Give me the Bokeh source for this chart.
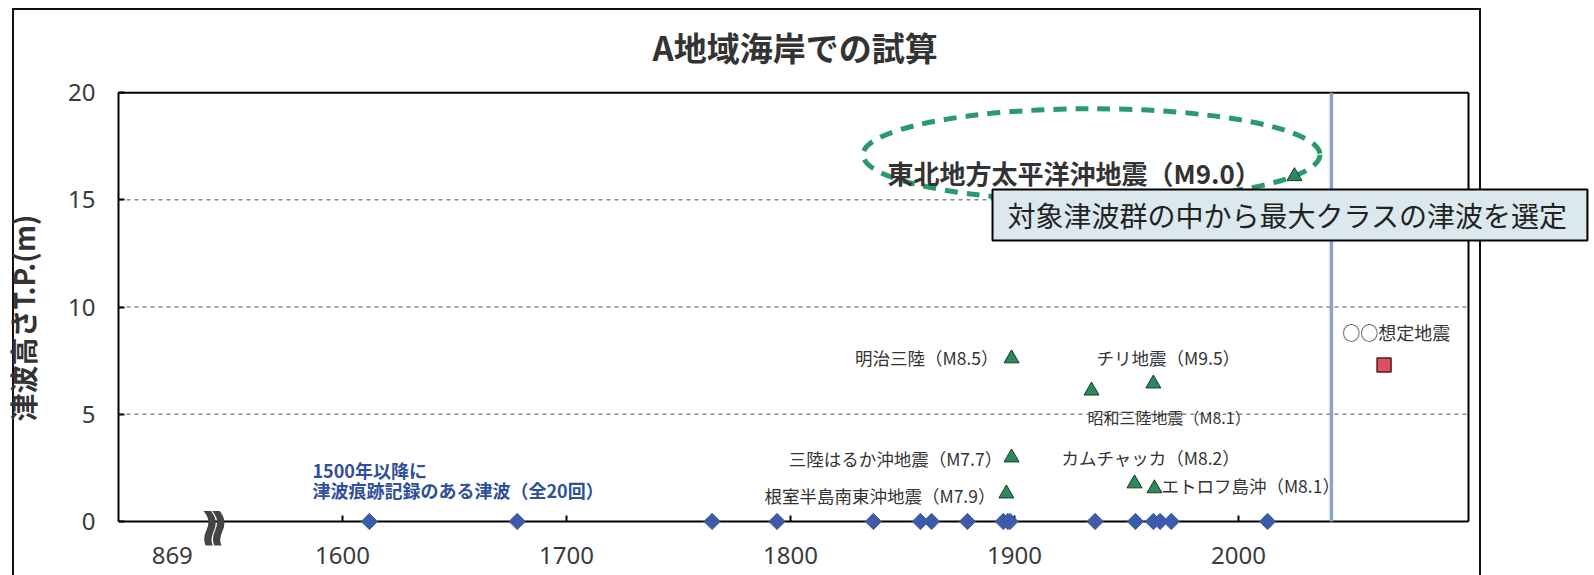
from bokeh.plotting import figure
from bokeh.models import Label, FixedTicker, Range1d
from bokeh.embed import file_html
from bokeh.resources import INLINE
import math

# ---------------- data ----------------
record_years = [1612, 1678, 1765, 1794, 1837, 1858, 1863, 1879, 1895, 1897, 1898,
                1936, 1954, 1962, 1965, 1970, 2013]
record_heights = [0, 0, 0, 0, 0, 0, 0, 0, 0, 0, 0, 0, 0, 0, 0, 0, 0]

quake_names = ["東北地方太平洋沖地震（M9.0）", "明治三陸（M8.5）", "チリ地震（M9.5）",
               "昭和三陸地震（M8.1）", "三陸はるか沖地震（M7.7）", "カムチャッカ（M8.2）",
               "エトロフ島沖（M8.1）", "根室半島南東沖地震（M7.9）"]
quake_years = [2025, 1898.7, 1962, 1934.4, 1898.7, 1953.6, 1962.5, 1896.4]
quake_heights = [16.1, 7.6, 6.43, 6.1, 2.98, 1.77, 1.54, 1.3]

scenario_name = "○○想定地震"
scenario_x = [2065]
scenario_height = [7.3]

y_ticks = [0, 5, 10, 15, 20]
grid_levels = [5, 10, 15]
x_ticks = [1524, 1600, 1700, 1800, 1900, 2000]
x_tick_labels = {1524: "869"}
separator_year = [2041.5]

title_text = "A地域海岸での試算"
y_label = "津波高さT.P.(m)"
note_text = "対象津波群の中から最大クラスの津波を選定"
record_note = ["1500年以降に", "津波痕跡記録のある津波（全20回）"]

# plotted window of the chart (years, metres)
X_MIN, X_MAX = 1500, 2102.7
Y_MIN, Y_MAX = 0, 20

# ---------------- figure ----------------
JP = "Noto Sans CJK JP"
DARK = "#333333"

p = figure(frame_width=1477, frame_height=455, min_border_left=117, min_border_right=0,
           min_border_top=90, min_border_bottom=30,
           x_range=Range1d(1500, 2159.4), y_range=Range1d(-1.12, 20.1),
           output_backend="svg", toolbar_location=None, title=title_text,
           background_fill_color=None, border_fill_color=None)
p.outline_line_color = None
# outer frame of the slide (drawn behind the transparent canvas)
p.styles = {
    "background-color": "white",
    "background-image": "linear-gradient(#111,#111), linear-gradient(#111,#111), linear-gradient(#111,#111)",
    "background-size": "1469px 2px, 2px 700px, 2px 700px",
    "background-position": "12px 8px, 12px 8px, 1479px 8px",
    "background-repeat": "no-repeat",
}

p.title.text_font = JP
p.title.text_font_size = "33px"
p.title.text_font_style = "bold"
p.title.text_color = DARK
p.title.align = "left"
p.title.offset = 534
p.title.standoff = 39

# y axis
ya = p.yaxis[0]
ya.ticker = FixedTicker(ticks=y_ticks)
ya.bounds = (Y_MIN, Y_MAX)
ya.axis_line_color = "black"
ya.axis_line_width = 2
ya.major_tick_in = 6
ya.major_tick_out = 0
ya.major_tick_line_width = 2
ya.minor_tick_line_color = None
ya.major_label_text_font = "Noto Sans"
ya.major_label_text_font_size = "24px"
ya.major_label_text_color = "#3a3a3a"
ya.major_label_standoff = 23
ya.axis_label = y_label
ya.axis_label_text_font = JP
ya.axis_label_text_font_size = "28px"
ya.axis_label_text_font_style = "bold"
ya.axis_label_text_color = DARK
ya.axis_label_standoff = 22

# x axis (labels only; the axis line is drawn at 0)
xa = p.xaxis[0]
xa.ticker = FixedTicker(ticks=x_ticks)
xa.major_label_overrides = x_tick_labels
xa.axis_line_color = None
xa.major_tick_line_color = None
xa.minor_tick_line_color = None
xa.major_label_text_font = "Noto Sans"
xa.major_label_text_font_size = "24px"
xa.major_label_text_color = "#3a3a3a"
xa.major_label_standoff = -5

p.xgrid.visible = False
p.ygrid.visible = False

# dashed grid lines inside the chart window
p.segment(x0=[X_MIN] * len(grid_levels), y0=grid_levels,
          x1=[X_MAX] * len(grid_levels), y1=grid_levels,
          line_color="#8c8c8c", line_dash="4 4", line_width=1.5)
# top border, right border and x-axis line
p.segment(x0=[X_MIN, X_MAX, X_MIN], y0=[Y_MAX, Y_MIN, Y_MIN],
          x1=[X_MAX, X_MAX, X_MAX], y1=[Y_MAX, Y_MAX, Y_MIN],
          line_color="black", line_width=2)
# x ticks (inward)
tick_x = x_ticks[1:]
p.segment(x0=tick_x, y0=[Y_MIN] * len(tick_x), x1=tick_x, y1=[0.28] * len(tick_x),
          line_color="black", line_width=2)

# separator between records and scenario
p.segment(x0=separator_year, y0=[Y_MIN], x1=separator_year, y1=[Y_MAX],
          line_color="#8aa3c8", line_width=3.5)

# ellipse around the largest tsunami
p.ellipse(x=[1934.4], y=[17.1], width=[204], height=[4.3], fill_color=None,
          line_color="#2a9a6c", line_width=5, line_dash="13 9")

# record diamonds
p.scatter(x=record_years, y=record_heights, marker="square", angle=math.pi / 4,
          size=11.5, fill_color="#3d5ba9", line_color="#3d5ba9", level="overlay")

# quake triangles
p.scatter(x=quake_years, y=quake_heights, marker="triangle", size=15,
          fill_color="#2b8a5a", line_color="#1b3b2b", line_width=1)

# scenario
p.scatter(x=scenario_x, y=scenario_height, marker="square", size=14,
          fill_color="#d9505e", line_color="#5a1a20", line_width=1.5)

# note box
p.quad(left=[1890.2], right=[2155.8], bottom=[13.1], top=[15.48],
       fill_color="#dbe9ee", line_color="black", line_width=2)

# ---------------- texts ----------------
def lab(x, y, t, align="left", size="17.5px", color=DARK, style="normal", font=JP,
        angle=0.0):
    p.add_layout(Label(x=x, y=y, text=t, text_align=align, text_baseline="middle",
                       text_font=font, text_font_size=size, text_color=color,
                       text_font_style=style, angle=angle))

lab(2010, 16.26, quake_names[0], "right", "26px", style="bold")
lab(1892.9, 7.65, quake_names[1], "right")
lab(1968.7, 7.65, quake_names[2], "center")
lab(1932.6, 4.85, quake_names[3], "left", "16px")
lab(1894.5, 2.94, quake_names[4], "right")
lab(1921.0, 2.98, quake_names[5], "left")
lab(1965.6, 1.68, quake_names[6], "left")
lab(1891.5, 1.21, quake_names[7], "right")
lab(2070.5, 8.86, scenario_name, "center", "18px")
lab(1586.6, 2.38, record_note[0], "left", "18px", "#2f4f9a", "bold")
lab(1586.6, 1.45, record_note[1], "left", "18px", "#2f4f9a", "bold")

# axis break mark (two wavy strokes)
lab(1540.8, -0.33, "≀", "center", "64px", "#444444", "bold", "DejaVu Sans")
lab(1544.8, -0.33, "≀", "center", "64px", "#444444", "bold", "DejaVu Sans")

lab(1896.9, 14.29, note_text, "left", "28px", "#222222")

open("out.html", "w").write(file_html(p, INLINE))
